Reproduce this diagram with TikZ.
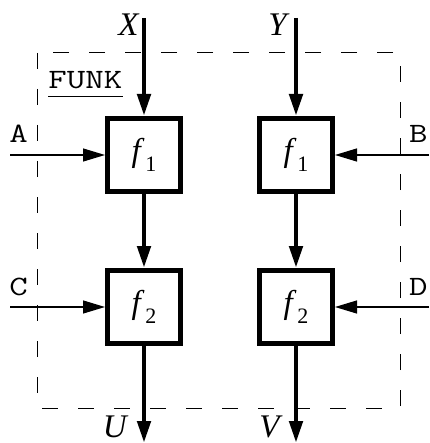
\documentclass[tikz,border=0pt]{standalone}
\usepackage{fontspec}
\usepackage{graphicx}
\setmainfont{Liberation Serif}
\usetikzlibrary{arrows.meta, positioning}

\newcommand{\fsub}[1]{\textit{f}\hspace{0.5pt}\raisebox{-5pt}{\fontsize{11}{11}\selectfont #1}}
\newcommand{\port}[1]{\scalebox{1.28}[1]{#1}}

\begin{document}
\begin{tikzpicture}[x=0.5pt, y=-0.5pt]
    % Styles
    \tikzstyle{func} = [rectangle, draw, line width=2.5pt, minimum size=36.5pt, inner sep=0pt, font=\fontsize{16.5}{18}\selectfont]
    \tikzstyle{mainflow} = [line width=2.3pt, -{Triangle[length=11pt, width=6.5pt]}]
    \tikzstyle{sideflow} = [line width=0.6pt, -{Triangle[length=11pt, width=6.5pt]}]
    \tikzstyle{varlbl} = [font=\fontsize{16.5}{18}\selectfont\itshape, inner sep=0pt]
    \tikzstyle{portlbl} = [font=\fontsize{14}{16}\selectfont\ttfamily, inner sep=0pt]

    \useasboundingbox (0,0) rectangle (429,443);

    % Frame
    \draw[line width=0.5pt, dash pattern=on 8pt off 10pt] (37,53) rectangle (400,408);
    \node (funk) [portlbl, anchor=base west] at (48,89) {\port{FUNK}};
    \draw[line width=0.5pt] ([yshift=-4pt]funk.base west) -- ([yshift=-4pt]funk.base east);

    % Nodes
    \node (f1L) [func] at (144,155) {\fsub{1}};
    \node (f2L) [func, on grid, below=76pt of f1L] {\fsub{2}};
    \node (f1R) [func, on grid, right=76pt of f1L] {\fsub{1}};
    \node (f2R) [func, on grid, below=76pt of f1R] {\fsub{2}};

    % Free ends
    \coordinate (inX) at (144,18);
    \coordinate (inY) at (296,18);
    \coordinate (outU) at (144,443);
    \coordinate (outV) at (296,443);
    \coordinate (inA) at (10,155);
    \coordinate (inC) at (10,307);
    \coordinate (inB) at (429,155);
    \coordinate (inD) at (429,307);

    % Labels
    \node (lblX) [varlbl, anchor=north east] at (139,13) {X};
    \node (lblY) [varlbl, anchor=north east] at (287,13) {Y};
    \node (lblU) [varlbl, anchor=north east] at (127,415) {U};
    \node (lblV) [varlbl, anchor=north east] at (280,415) {V};
    \node (lblA) [portlbl, anchor=base west] at (9,142) {\port{A}};
    \node (lblC) [portlbl, anchor=base west] at (9,295) {\port{C}};
    \node (lblB) [portlbl, anchor=base east] at (428,142) {\port{B}};
    \node (lblD) [portlbl, anchor=base east] at (428,295) {\port{D}};

    % Connections
    \draw[mainflow] (inX) -- (f1L);
    \draw[mainflow] (f1L) -- (f2L);
    \draw[mainflow] (f2L) -- (outU);
    \draw[mainflow] (inY) -- (f1R);
    \draw[mainflow] (f1R) -- (f2R);
    \draw[mainflow] (f2R) -- (outV);
    \draw[sideflow] (inA) -- (f1L);
    \draw[sideflow] (inC) -- (f2L);
    \draw[sideflow] (inB) -- (f1R);
    \draw[sideflow] (inD) -- (f2R);
\end{tikzpicture}
\end{document}
